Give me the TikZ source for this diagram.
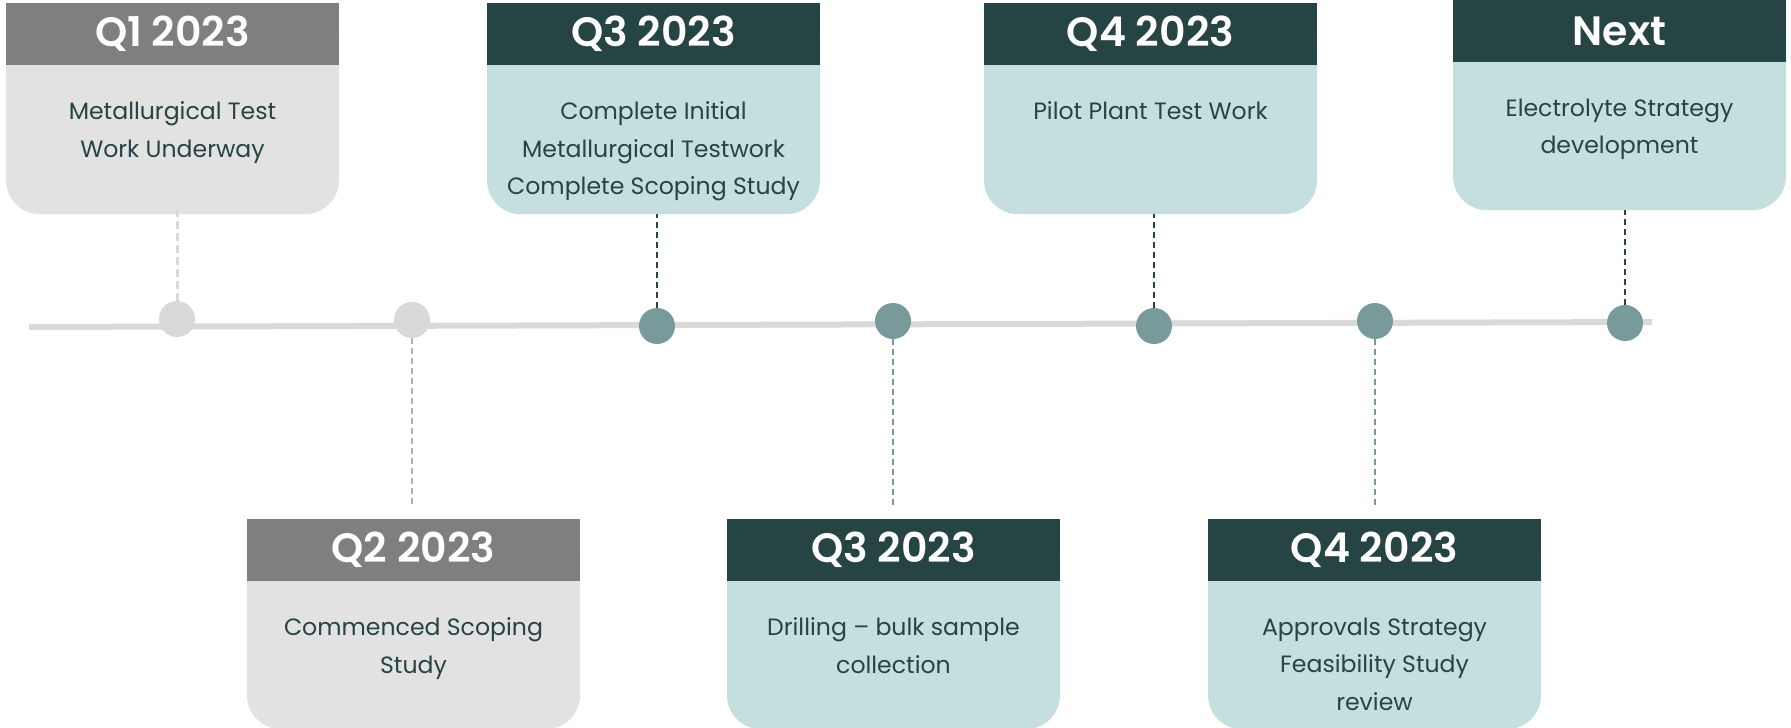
\documentclass[tikz,border=0pt]{standalone}
\usepackage{fontspec}
\setmainfont{Poppins}[BoldFont={* SemiBold}]
\usepackage{xcolor}
\usetikzlibrary{positioning}

\definecolor{headdark}{HTML}{264444}
\definecolor{headgrey}{HTML}{7F7F7F}
\definecolor{bodyteal}{HTML}{C5DFDF}
\definecolor{bodygrey}{HTML}{E2E2E2}
\definecolor{dotteal}{HTML}{789A9A}
\definecolor{dotgrey}{HTML}{D9D9D9}
\definecolor{ink}{HTML}{264444}

\begin{document}
\begin{tikzpicture}[x=1pt, y=-1pt,
      card/.style={rounded corners=34pt, minimum width=333pt, anchor=north, inner sep=0pt},
      past/.style={card, fill=bodygrey},
      plan/.style={card, fill=bodyteal},
      head/.style={anchor=north, minimum width=333pt, minimum height=62pt, inner sep=0pt,
        text=white, font=\fontsize{41}{44}\selectfont\bfseries},
      note/.style={align=center, inner sep=0pt, text=ink, font=\fontsize{23.6}{37.5}\selectfont},
      dot/.style={circle, minimum size=36pt, inner sep=0pt},
      link/.style={line width=2pt, dash pattern=on 6pt off 4pt}
    ]
    \useasboundingbox (0,0) rectangle (1791,728);

    % timeline axis
    \coordinate (start) at (29,327);
    \coordinate (end) at (1652,322);
    \draw[line width=6pt, dotgrey] (start) -- (end);

    % Q1 2023
    \node[past, minimum height=211pt] (q1card) at (172.5,3) {};
    \node[head, fill=headgrey] (q1head) at (q1card.north) {Q1 2023};
    \node[note, below=36pt of q1head] (q1note) {Metallurgical Test\\Work Underway};
    \node[dot, fill=dotgrey] (q1dot) at (177,319) {};

    % Q2 2023
    \node[past, minimum height=210pt] (q2card) at (413.5,519) {};
    \node[head, fill=headgrey] (q2head) at (q2card.north) {Q2 2023};
    \node[note, below=36pt of q2head] (q2note) {Commenced Scoping\\Study};
    \node[dot, fill=dotgrey] (q2dot) at (412,320) {};

    % Q3 2023, top
    \node[plan, minimum height=211pt] (q3card) at (653.5,3) {};
    \node[head, fill=headdark] (q3head) at (q3card.north) {Q3 2023};
    \node[note, below=36pt of q3head] (q3note) {Complete Initial\\Metallurgical Testwork\\Complete Scoping Study};
    \node[dot, fill=dotteal] (q3dot) at (657,326) {};

    % Q3 2023, bottom
    \node[plan, minimum height=210pt] (q3bcard) at (893.5,519) {};
    \node[head, fill=headdark] (q3bhead) at (q3bcard.north) {Q3 2023};
    \node[note, below=36pt of q3bhead] (q3bnote) {Drilling -- bulk sample\\collection};
    \node[dot, fill=dotteal] (q3bdot) at (893,321) {};

    % Q4 2023, top
    \node[plan, minimum height=211pt] (q4card) at (1150.5,3) {};
    \node[head, fill=headdark] (q4head) at (q4card.north) {Q4 2023};
    \node[note, below=36pt of q4head] (q4note) {Pilot Plant Test Work};
    \node[dot, fill=dotteal] (q4dot) at (1154,326) {};

    % Q4 2023, bottom
    \node[plan, minimum height=210pt] (q4bcard) at (1374.5,519) {};
    \node[head, fill=headdark] (q4bhead) at (q4bcard.north) {Q4 2023};
    \node[note, below=36pt of q4bhead] (q4bnote) {Approvals Strategy\\Feasibility Study\\review};
    \node[dot, fill=dotteal] (q4bdot) at (1375,321) {};

    % Next
    \node[plan, minimum height=210pt] (nxcard) at (1619.5,0) {};
    \node[head, fill=headdark] (nxhead) at (nxcard.north) {Next};
    \node[note, below=36pt of nxhead] (nxnote) {Electrolyte Strategy\\development};
    \node[dot, fill=dotteal] (nxdot) at (1625,323) {};

    % dashed drop lines
    \draw[link, line width=3pt, dash pattern=on 8pt off 4pt, dotgrey] (q1dot.north) -- ([yshift=10pt]q1dot |- q1card.south);
    \draw[link, gray!60, shorten >=12pt] (q2dot.south) -- (q2dot |- q2head.north);
    \draw[link, headdark] (q3dot.north) -- (q3dot |- q3card.south);
    \draw[link, dotteal, shorten >=12pt] (q3bdot.south) -- (q3bdot |- q3bhead.north);
    \draw[link, headdark] (q4dot.north) -- (q4dot |- q4card.south);
    \draw[link, dotteal, shorten >=12pt] (q4bdot.south) -- (q4bdot |- q4bhead.north);
    \draw[link, headdark] (nxdot.north) -- (nxdot |- nxcard.south);
\end{tikzpicture}
\end{document}
